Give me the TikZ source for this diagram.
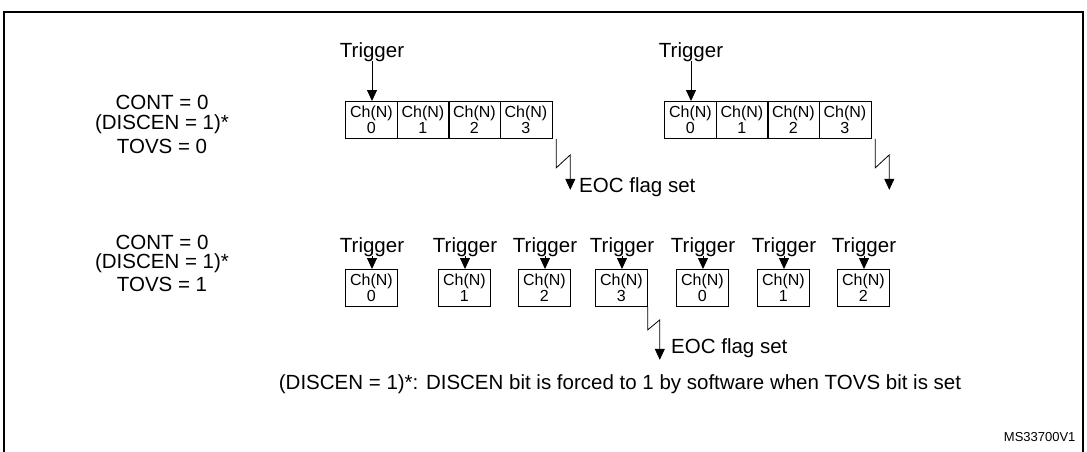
\documentclass[tikz,border=0pt]{standalone}
\usepackage{fontspec}
\setmainfont{Liberation Sans}
\usetikzlibrary{arrows.meta}
\begin{document}
\begin{tikzpicture}[x=1pt,y=-1pt,
  lbl/.style={font=\fontsize{20.5}{22}\selectfont,inner sep=1pt},
  ch/.style={draw,thick,minimum width=52pt,minimum height=37pt,inner sep=0pt,align=center,font=\fontsize{16}{16}\selectfont},
  trig/.style={-{Triangle[length=11pt,width=10pt]},thick}]
\useasboundingbox (0,0) rectangle (1087,451);
\draw[line width=1.2pt] (4,460) -- (4,12) -- (1083,12) -- (1083,460);

% left labels
\node[lbl] (c0) at (162,102) {CONT = 0};
\node[lbl] (d0) at (162,124) {(DISCEN = 1)*};
\node[lbl] (t0) at (162,146) {TOVS = 0};
\node[lbl] (c1) at (162,242) {CONT = 0};
\node[lbl] (d1) at (162,263) {(DISCEN = 1)*};
\node[lbl] (t1) at (162,284) {TOVS = 1};

% TOVS = 0: two sequences
\foreach \g/\x in {a/345,b/664} {
  \foreach \s in {0,...,3}
    \node[ch,anchor=north west] (\g\s) at ({\x+\s*51.5},101) {Ch(N)\\\s};
  \node[lbl] (\g t) at ({\x+27},52) {Trigger};
  \draw[trig] (\g t.south) ++(0,-2) coordinate (\g u) -- (\g u |- \g0.north);
  \coordinate (\g e) at ([xshift=4pt]\g3.south east);
  \draw[trig] (\g e) -- ++(0,29) -- ++(14,-13) -- ++(0,35);
}
\node[lbl,anchor=west] (eoc0) at (578,187) {EOC flag set};

% TOVS = 1: one channel per trigger
\foreach \s/\x/\n in {1/345/0,2/438/1,3/518/2,4/595/3,5/676/0,6/757/1,7/837/2} {
  \node[ch,anchor=north west] (k\s) at (\x,269) {Ch(N)\\\n};
  \node[lbl] (kt\s) at ({\x+27},247) {Trigger};
  \draw[trig] (kt\s.south) ++(0,-2) coordinate (ku\s) -- (ku\s |- k\s.north);
}
\coordinate (ke) at (k4.south east);
\draw[trig] (ke) -- ++(0,23) -- ++(12,-10) -- ++(0,40);
\node[lbl,anchor=west] (eoc1) at (670,348) {EOC flag set};

\node[lbl] (note) at (620,384) {(DISCEN = 1)*: DISCEN bit is forced to 1 by software when TOVS bit is set};
\node[font=\fontsize{13}{14}\selectfont,anchor=east] (ms) at (1079,437) {MS33700V1};
\end{tikzpicture}
\end{document}
